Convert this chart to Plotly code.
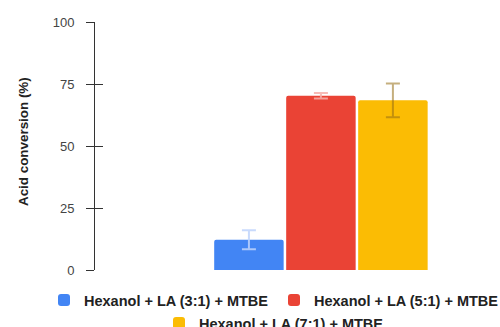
import plotly.graph_objects as go

categories = ["Hexanol + LA (3:1) + MTBE", "Hexanol + LA (5:1) + MTBE", "Hexanol + LA (7:1) + MTBE"]
values = [12.2, 70.3, 68.4]
errors = [3.8, 1.1, 6.8]
colors = ["#4285F4", "#EA4335", "#FBBC04"]
err_colors = ["rgba(190,212,252,0.85)", "rgba(246,176,170,0.85)", "rgba(150,110,20,0.55)"]
legends = ["legend", "legend2", "legend3"]
y_ticks = [0, 25, 50, 75, 100]
y_title = "Acid conversion (%)"

W, H = 500, 327
L, R, T, B = 95, 5, 22, 57

fig = go.Figure()
for name, v, e, c, ec, lg in zip(categories, values, errors, colors, err_colors, legends):
    fig.add_trace(go.Bar(
        x=[0], y=[v], name=name,
        marker=dict(color=c, cornerradius=2, line=dict(width=0)),
        error_y=dict(type="data", array=[e], color=ec, thickness=2, width=7),
        legend=lg,
    ))

# invisible trace to host the inside ticks axis
fig.add_trace(go.Scatter(x=[0], y=[0], yaxis="y2", mode="markers",
                         marker=dict(opacity=0), showlegend=False, hoverinfo="skip"))

leg_font = dict(size=14.5, color="#222222", weight="bold", family="Liberation Sans, Arial, sans-serif")

def leg(px_x, px_y):
    return dict(orientation="h", xref="container", yref="container",
                x=px_x / W, xanchor="left", y=1 - px_y / H, yanchor="middle",
                font=leg_font, itemwidth=30, bgcolor="rgba(0,0,0,0)")

plot_w = W - L - R
plot_h = H - T - B

fig.add_annotation(text="<b>" + y_title + "</b>", textangle=-90, showarrow=False,
                   xref="paper", yref="paper", x=(23 - L) / plot_w, y=(H - B - 142) / plot_h,
                   xanchor="center", yanchor="middle",
                   font=dict(size=13.4, color="#222222"))

fig.update_layout(
    width=W, height=H,
    margin=dict(l=L, r=R, t=T, b=B, autoexpand=False),
    paper_bgcolor="white", plot_bgcolor="white",
    barmode="group", bargap=0, bargroupgap=0.035,
    font=dict(family="Liberation Sans, Arial, sans-serif", color="#333333"),
    xaxis=dict(range=[-1.046, 0.806], showticklabels=False, showgrid=False,
               zeroline=False, showline=False, ticks=""),
    yaxis=dict(range=[0, 100], tickvals=y_ticks, showgrid=False, zeroline=False,
               showline=True, linecolor="#333333", linewidth=1,
               ticks="outside", ticklen=8, tickcolor="#333333", tickwidth=1,
               ticklabelstandoff=9, automargin=False,
               tickfont=dict(size=13, color="#444444")),
    yaxis2=dict(range=[0, 100], tickvals=y_ticks, overlaying="y", side="left",
                showticklabels=False, showgrid=False, zeroline=False, showline=False,
                ticks="inside", ticklen=8, tickcolor="#333333", tickwidth=1),
    legend=leg(44, 300),
    legend2=leg(274, 300),
    legend3=leg(159, 323),
    showlegend=True,
)

fig.write_html("out.html", config={"displayModeBar": False},
               post_script="document.body.style.margin='0';document.body.style.overflow='hidden';")
